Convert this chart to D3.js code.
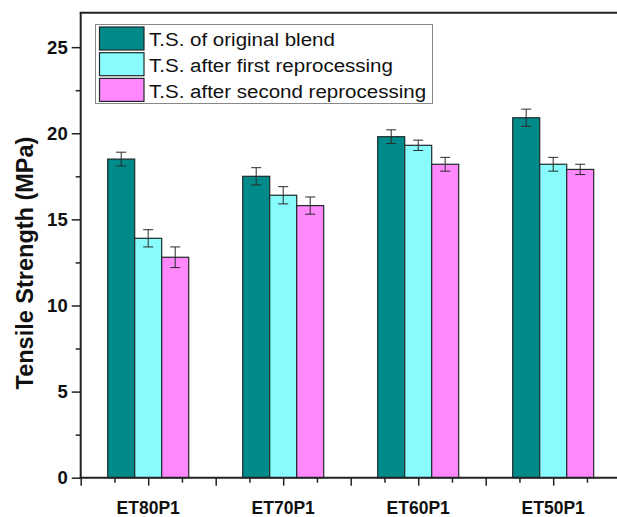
<!DOCTYPE html>
<html>
<head>
<meta charset="utf-8">
<script src="https://cdn.jsdelivr.net/npm/d3@7"></script>
<style>
html,body{margin:0;padding:0;background:#fff;}
svg{display:block;font-family:"Liberation Sans",Arial,sans-serif;}
</style>
</head>
<body>
<svg id="chart" width="617" height="517"></svg>
<script>
const categories = ["ET80P1", "ET70P1", "ET60P1", "ET50P1"];
const seriesNames = ["T.S. of original blend", "T.S. after first reprocessing", "T.S. after second reprocessing"];
const seriesColors = ["#008a8a", "#88fcfc", "#ff88fc"];
const original = [18.5, 17.5, 19.8, 20.9];
const firstReproc = [13.9, 16.4, 19.3, 18.2];
const secondReproc = [12.8, 15.8, 18.2, 17.9];
const originalErr = [0.4, 0.5, 0.4, 0.5];
const firstErr = [0.5, 0.5, 0.3, 0.4];
const secondErr = [0.6, 0.5, 0.4, 0.3];
const yTicks = [0, 5, 10, 15, 20, 25];
const yMinorTicks = [2.5, 7.5, 12.5, 17.5, 22.5];

const values = [original, firstReproc, secondReproc];
const errors = [originalErr, firstErr, secondErr];

const svg = d3.select("#chart");
const plotLeft = 80.7, plotBottom = 477.7, plotTop = 12.7;
const x = d3.scaleLinear().domain([0.5, 4.5]).range([plotLeft, plotLeft + 540]);
const y = d3.scaleLinear().domain([0, 27]).range([plotBottom, plotTop]);
const barW = 0.2;
function i2x(d){ return (d.i + 1) + (d.s - 1) * barW - barW / 2; }

// bars
const data = [];
values.forEach((arr, s) => arr.forEach((v, i) => data.push({s, i, v, e: errors[s][i]})));
const g = svg.append("g");
g.selectAll("rect.bar").data(data).enter().append("rect")
  .attr("class", "bar")
  .attr("x", d => x(i2x(d)))
  .attr("y", d => y(d.v))
  .attr("width", d => x(i2x(d) + barW) - x(i2x(d)))
  .attr("height", d => y(0) - y(d.v))
  .attr("fill", d => seriesColors[d.s])
  .attr("stroke", "#1e2a2a")
  .attr("stroke-width", 1.2);

// error bars
const eg = g.selectAll("g.err").data(data).enter().append("g").attr("class", "err")
  .attr("stroke", "#2a2a2a").attr("stroke-width", 1).attr("fill", "none");
eg.append("line")
  .attr("x1", d => x(i2x(d) + barW / 2)).attr("x2", d => x(i2x(d) + barW / 2))
  .attr("y1", d => y(d.v + d.e)).attr("y2", d => y(d.v - d.e));
eg.append("line")
  .attr("x1", d => x(i2x(d) + barW / 2) - 5).attr("x2", d => x(i2x(d) + barW / 2) + 5)
  .attr("y1", d => y(d.v + d.e)).attr("y2", d => y(d.v + d.e));
eg.append("line")
  .attr("x1", d => x(i2x(d) + barW / 2) - 5).attr("x2", d => x(i2x(d) + barW / 2) + 5)
  .attr("y1", d => y(d.v - d.e)).attr("y2", d => y(d.v - d.e));

// Y axis
const yAxis = d3.axisLeft(y).tickValues(yTicks).tickSize(9).tickPadding(4).tickFormat(d3.format("d"));
const ya = svg.append("g").attr("transform", `translate(${plotLeft},0)`).call(yAxis);
ya.select(".domain").remove();
ya.selectAll(".tick line").attr("stroke", "#222").attr("stroke-width", 1.5);
ya.selectAll(".tick text").attr("font-size", 18.5).attr("font-weight", "bold").attr("fill", "#111")
  .attr("font-family", "Liberation Sans, Arial, sans-serif");
const yMinor = d3.axisLeft(y).tickValues(yMinorTicks).tickSize(5).tickFormat("");
const ym = svg.append("g").attr("transform", `translate(${plotLeft},0)`).call(yMinor);
ym.select(".domain").remove();
ym.selectAll(".tick line").attr("stroke", "#222").attr("stroke-width", 1.5);

// X axis
const xMajor = d3.range(0.5, 4.51, 0.5);
const xMinorT = d3.range(0.75, 4.5, 0.5);
const xa = svg.append("g").attr("transform", `translate(0,${plotBottom})`)
  .call(d3.axisBottom(x).tickValues(xMajor).tickSize(8).tickFormat(""));
xa.select(".domain").remove();
xa.selectAll(".tick line").attr("stroke", "#222").attr("stroke-width", 1.5);
const xm = svg.append("g").attr("transform", `translate(0,${plotBottom})`)
  .call(d3.axisBottom(x).tickValues(xMinorT).tickSize(5).tickFormat(""));
xm.select(".domain").remove();
xm.selectAll(".tick line").attr("stroke", "#222").attr("stroke-width", 1.5);
// category labels
svg.append("g").selectAll("text").data(categories).enter().append("text")
  .attr("x", (d, i) => x(i + 1)).attr("y", 514)
  .attr("text-anchor", "middle").attr("font-size", 17.5).attr("font-weight", "bold").attr("fill", "#111")
  .text(d => d);

// axis lines and top frame
svg.append("line").attr("x1", plotLeft).attr("x2", plotLeft).attr("y1", plotTop).attr("y2", plotBottom + 1)
  .attr("stroke", "#222").attr("stroke-width", 2);
svg.append("line").attr("x1", plotLeft - 1).attr("x2", 617).attr("y1", plotBottom).attr("y2", plotBottom)
  .attr("stroke", "#222").attr("stroke-width", 2);
svg.append("line").attr("x1", plotLeft - 1).attr("x2", 617).attr("y1", plotTop).attr("y2", plotTop)
  .attr("stroke", "#222").attr("stroke-width", 2);

// Y title
svg.append("text").attr("transform", `translate(33,263) rotate(-90)`)
  .attr("text-anchor", "middle").attr("font-size", 23.5).attr("font-weight", "bold").attr("fill", "#111")
  .text("Tensile Strength (MPa)");

// legend
const lg = svg.append("g");
lg.append("rect").attr("x", 95.5).attr("y", 24.5).attr("width", 337).attr("height", 79)
  .attr("fill", "#fff").attr("stroke", "#888").attr("stroke-width", 1);
const items = lg.selectAll("g.item").data(seriesNames).enter().append("g").attr("class", "item")
  .attr("transform", (d, i) => `translate(0,${i * 25.7})`);
items.append("rect").attr("x", 99.5).attr("y", 27).attr("width", 44.5).attr("height", 23)
  .attr("fill", (d, i) => seriesColors[i]).attr("stroke", "#1e2a2a").attr("stroke-width", 1.2);
items.append("text").attr("transform", "translate(149,46.3) scale(1.08,1)")
  .attr("font-size", 19).attr("fill", "#111")
  .text(d => d);
</script>
</body>
</html>
